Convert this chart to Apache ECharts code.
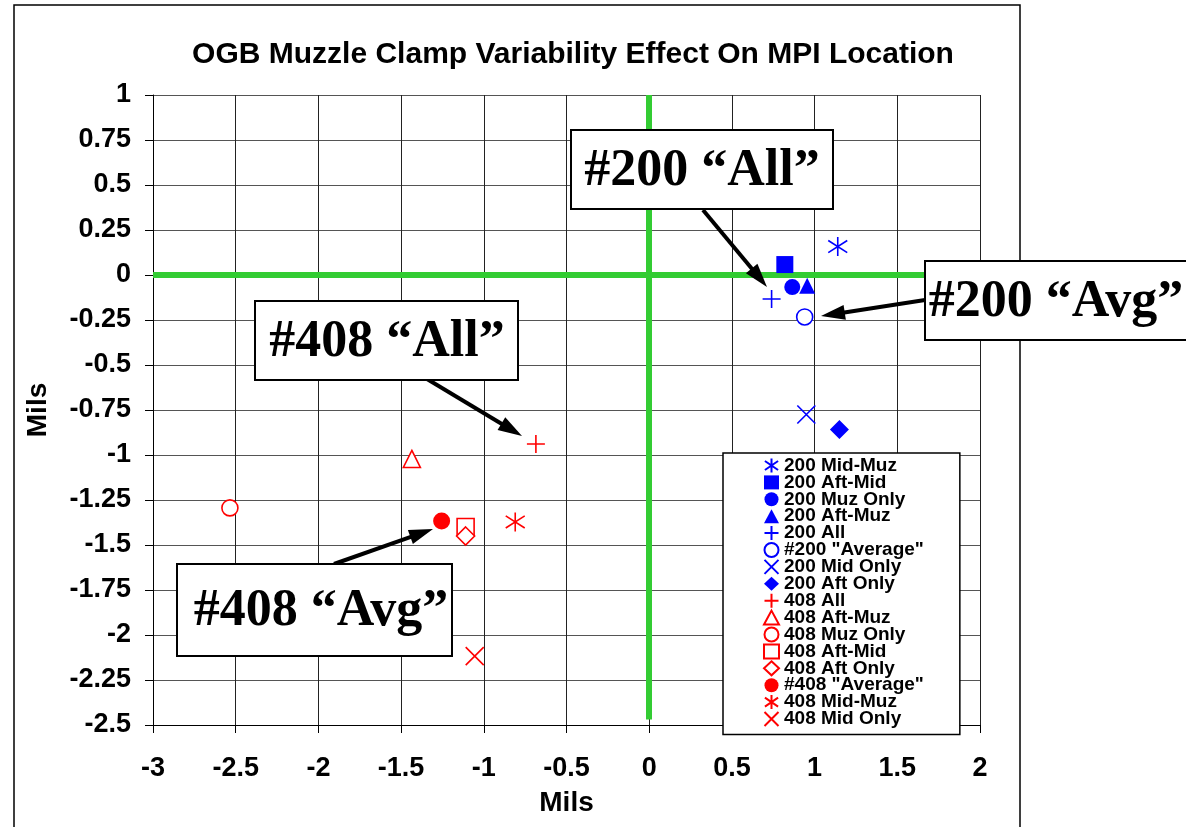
<!DOCTYPE html>
<html>
<head>
<meta charset="utf-8">
<script src="https://cdn.jsdelivr.net/npm/echarts@6/dist/echarts.min.js"></script>
<style>html,body{margin:0;padding:0;background:#fff;}#c{width:1186px;height:827px;}</style>
</head>
<body>
<div id="c"></div>
<script>
// ---- data ----
const seriesNames = ['200 Mid-Muz','200 Aft-Mid','200 Muz Only','200 Aft-Muz','200 All','#200 "Average"','200 Mid Only','200 Aft Only',
  '408 All','408 Aft-Muz','408 Muz Only','408 Aft-Mid','408 Aft Only','#408 "Average"','408 Mid-Muz','408 Mid Only'];
const xValues = [1.14, 0.82, 0.865, 0.955, 0.74, 0.94, 0.95, 1.15,
  -0.685, -1.435, -2.535, -1.11, -1.11, -1.255, -0.81, -1.055];
const yValues = [0.158, 0.058, -0.067, -0.06, -0.133, -0.233, -0.775, -0.858,
  -0.939, -1.022, -1.294, -1.40, -1.45, -1.367, -1.372, -2.117];
const xTicks = [-3, -2.5, -2, -1.5, -1, -0.5, 0, 0.5, 1, 1.5, 2];
const yTicks = [1, 0.75, 0.5, 0.25, 0, -0.25, -0.5, -0.75, -1, -1.25, -1.5, -1.75, -2, -2.25, -2.5];
const titleText = 'OGB Muzzle Clamp Variability Effect On MPI Location';
const axisName = 'Mils';

// ---- styles ----
const BLUE = '#0000ff', RED = '#ff0000', GREEN = '#33cc33';
const ASTER = 'path://M5 0 L5 10 M0.3 1.8 L9.7 8.2 M0.3 8.2 L9.7 1.8';
const PLUS = 'path://M5 0 L5 10 M0 5 L10 5';
const CROSS = 'path://M0 0 L10 10 M10 0 L0 10';
const styles = [
  {c: BLUE, s: ASTER, size: 19, line: true},
  {c: BLUE, s: 'rect', size: 17, fill: true},
  {c: BLUE, s: 'circle', size: 16, fill: true},
  {c: BLUE, s: 'triangle', size: 16, fill: true},
  {c: BLUE, s: PLUS, size: 18, line: true},
  {c: BLUE, s: 'circle', size: 16},
  {c: BLUE, s: CROSS, size: 18, line: true},
  {c: BLUE, s: 'diamond', size: 19, fill: true},
  {c: RED, s: PLUS, size: 18, line: true},
  {c: RED, s: 'triangle', size: 17},
  {c: RED, s: 'circle', size: 16},
  {c: RED, s: 'rect', size: 17},
  {c: RED, s: 'diamond', size: 18},
  {c: RED, s: 'circle', size: 17, fill: true},
  {c: RED, s: ASTER, size: 19, line: true},
  {c: RED, s: CROSS, size: 18, line: true}
];

const series = seriesNames.map((name, i) => {
  const st = styles[i];
  let itemStyle;
  if (st.fill) itemStyle = {color: st.c, opacity: 1};
  else if (st.line) itemStyle = {color: 'rgba(0,0,0,0)', borderColor: st.c, borderWidth: 1.6, opacity: 1};
  else itemStyle = {color: '#ffffff', borderColor: st.c, borderWidth: 1.6, opacity: 1};
  return {
    name: name,
    type: 'scatter',
    symbol: st.s,
    symbolSize: st.size,
    itemStyle: itemStyle,
    z: 5,
    data: [[xValues[i], yValues[i]]]
  };
});

// green reference lines drawn via markLine on a helper series
series.unshift({
  name: '_ref',
  type: 'scatter',
  data: [],
  silent: true,
  z: 3,
  markLine: {
    silent: true,
    symbol: ['none', 'none'],
    label: {show: false},
    lineStyle: {color: GREEN, width: 6, type: 'solid'},
    emphasis: {disabled: true},
    data: [
      [{coord: [-3, 0]}, {coord: [2, 0]}],
      [{coord: [0, 1]}, {coord: [0, -2.47]}]
    ]
  }
});

function arrow(x1, y1, x2, y2) {
  const L = 24, W = 7.5;
  const dx = x2 - x1, dy = y2 - y1, len = Math.sqrt(dx*dx + dy*dy);
  const ux = dx/len, uy = dy/len, nx = -uy, ny = ux;
  const bx = x2 - ux*L, by = y2 - uy*L;
  return [
    {type: 'line', z: 100, shape: {x1: x1, y1: y1, x2: bx + ux*2, y2: by + uy*2}, style: {stroke: '#000', lineWidth: 4}},
    {type: 'polygon', z: 100, shape: {points: [[x2, y2], [bx + nx*W, by + ny*W], [bx - nx*W, by - ny*W]]}, style: {fill: '#000'}}
  ];
}
function box(x, y, w, h, text, tx) {
  return [
    {type: 'rect', z: 101, shape: {x: x, y: y, width: w, height: h}, style: {fill: '#fff', stroke: '#000', lineWidth: 2}},
    {type: 'text', z: 102, x: tx, y: y + h/2 + 2, style: {text: text, font: 'bold 52px "Liberation Serif"', fill: '#000', textAlign: 'center', textVerticalAlign: 'middle'}}
  ];
}

const graphics = [].concat(
  [{type: 'rect', z: 0, shape: {x: 14, y: 5, width: 1006, height: 830}, style: {fill: 'none', stroke: '#000', lineWidth: 1.5}}],
  arrow(703, 210, 767, 287),
  arrow(925, 300, 821, 316),
  arrow(427, 379, 522, 436),
  arrow(334, 564, 433, 529),
  box(571, 130, 262, 79, '#200 \u201cAll\u201d', 702),
  box(925, 261, 270, 79, '#200 \u201cAvg\u201d', 1056),
  box(255, 301, 263, 79, '#408 \u201cAll\u201d', 387),
  box(177, 564, 275, 92, '#408 \u201cAvg\u201d', 321)
);

const labelFont = {fontFamily: 'Liberation Sans', fontWeight: 'bold', fontSize: 27, color: '#000'};

const chart = echarts.init(document.getElementById('c'), null, {renderer: 'canvas'});
chart.setOption({
  animation: false,
  backgroundColor: '#fff',
  title: {
    text: titleText,
    left: 568, top: 35, textAlign: 'center',
    textStyle: {fontFamily: 'Liberation Sans', fontWeight: 'bold', fontSize: 30, color: '#000'}
  },
  grid: {left: 153, right: 206, top: 95, bottom: 102},
  xAxis: {
    type: 'value', min: -3, max: 2, interval: 0.5,
    name: axisName, nameLocation: 'middle', nameGap: 64,
    nameTextStyle: {fontFamily: 'Liberation Sans', fontWeight: 'bold', fontSize: 28, color: '#000'},
    axisLine: {show: true, onZero: false, lineStyle: {color: '#000', width: 1}},
    axisTick: {show: true, inside: false, length: 8, lineStyle: {color: '#000'}},
    axisLabel: Object.assign({margin: 30,
      formatter: v => String(xTicks.find(t => Math.abs(t - v) < 1e-9) ?? v)}, labelFont),
    splitLine: {show: true, lineStyle: {color: '#222', width: 1}}
  },
  yAxis: {
    type: 'value', min: -2.5, max: 1, interval: 0.25,
    name: axisName, nameLocation: 'middle', nameGap: 101, nameRotate: 90,
    nameTextStyle: {fontFamily: 'Liberation Sans', fontWeight: 'bold', fontSize: 28, color: '#000'},
    axisLine: {show: true, onZero: false, lineStyle: {color: '#000', width: 1}},
    axisTick: {show: true, inside: false, length: 8, lineStyle: {color: '#000'}},
    axisLabel: Object.assign({margin: 22,
      formatter: v => String(yTicks.find(t => Math.abs(t - v) < 1e-9) ?? v)}, labelFont),
    splitLine: {show: true, lineStyle: {color: '#555', width: 1}}
  },
  legend: {
    data: seriesNames,
    orient: 'vertical',
    left: 723, top: 453,
    padding: [3, 36, 6, 40],
    itemWidth: 15, itemHeight: 14, itemGap: -2.1,
    backgroundColor: '#fff', borderColor: '#000', borderWidth: 1.5,
    textStyle: {fontFamily: 'Liberation Sans', fontWeight: 'bold', fontSize: 19, color: '#000'},
    selectedMode: false,
    z: 20
  },
  graphic: {elements: graphics},
  series: series
});
</script>
</body>
</html>
